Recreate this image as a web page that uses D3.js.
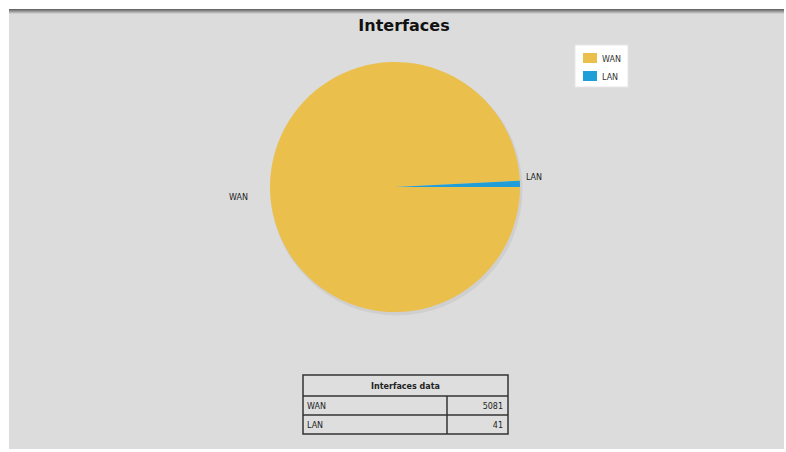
<!DOCTYPE html>
<html>
<head>
<meta charset="utf-8">
<script src="https://cdn.jsdelivr.net/npm/d3@7"></script>
<style>
  html, body { margin: 0; padding: 0; background: #ffffff; }
  svg { display: block; }
</style>
</head>
<body>
<svg id="chart" width="786" height="452"></svg>
<script>
const categories = ["WAN", "LAN"];
const values = [5081, 41];
const colors = ["#EABF4C", "#1F9ED8"];
const chartTitle = "Interfaces";
const tableTitle = "Interfaces data";

const svg = d3.select("#chart");
const W = 786, H = 452;

// panel background
const defs = svg.append("defs");
const grad = defs.append("linearGradient").attr("id", "topShade").attr("x1", 0).attr("y1", 0).attr("x2", 0).attr("y2", 1);
grad.append("stop").attr("offset", "0%").attr("stop-color", "#5a5a5a");
grad.append("stop").attr("offset", "100%").attr("stop-color", "#dcdcdc");

svg.append("rect").attr("x", 9).attr("y", 9).attr("width", 775).attr("height", 440).attr("fill", "#dcdcdc");
svg.append("rect").attr("x", 9).attr("y", 9).attr("width", 775).attr("height", 5).attr("fill", "url(#topShade)");

// title
svg.append("text")
  .attr("x", 404).attr("y", 31)
  .attr("text-anchor", "middle")
  .attr("font-family", "DejaVu Sans, Verdana, sans-serif")
  .attr("font-weight", "bold")
  .attr("font-size", 16)
  .attr("fill", "#111")
  .text(chartTitle);

// pie
const cx = 395, cy = 187, R = 125;
const pie = d3.pie().sort(null).value(d => d.v)
  .startAngle(Math.PI / 2).endAngle(Math.PI / 2 + 2 * Math.PI);
const data = categories.map((c, i) => ({ c, v: values[i], col: colors[i] }));
const arcs = pie(data);
const arc = d3.arc().innerRadius(0).outerRadius(R);
const g = svg.append("g").attr("transform", `translate(${cx},${cy})`);

// soft shadow
g.append("circle").attr("cx", 1.5).attr("cy", 2.5).attr("r", R + 1).attr("fill", "#cfcfcf");

g.selectAll("path.slice").data(arcs).enter().append("path")
  .attr("class", "slice")
  .attr("d", arc)
  .attr("fill", d => d.data.col);

// slice labels
const labelArc = d3.arc().innerRadius(R + 6).outerRadius(R + 6);
g.selectAll("text.lbl").data(arcs).enter().append("text")
  .attr("class", "lbl")
  .attr("x", d => {
    const p = labelArc.centroid(d);
    return p[0] < 0 ? p[0] - 16 : p[0];
  })
  .attr("y", d => {
    const p = labelArc.centroid(d);
    return p[0] < 0 ? p[1] + 10 : p[1] - 4;
  })
  .attr("text-anchor", d => labelArc.centroid(d)[0] < 0 ? "end" : "start")
  .attr("font-family", "DejaVu Sans, Verdana, sans-serif")
  .attr("font-size", 8)
  .attr("fill", "#222")
  .text(d => d.data.c);

// legend
const lg = svg.append("g").attr("transform", "translate(575,45)");
lg.append("rect").attr("width", 53).attr("height", 42).attr("fill", "#ffffff").attr("stroke", "#e6e6e6");
lg.selectAll("rect.sw").data(data).enter().append("rect")
  .attr("class", "sw")
  .attr("x", 8).attr("y", (d, i) => 8 + i * 18)
  .attr("width", 14).attr("height", 10)
  .attr("fill", d => d.col);
lg.selectAll("text.lt").data(data).enter().append("text")
  .attr("class", "lt")
  .attr("x", 27).attr("y", (d, i) => 17 + i * 18)
  .attr("font-family", "DejaVu Sans, Verdana, sans-serif")
  .attr("font-size", 8)
  .attr("fill", "#333")
  .text(d => d.c);

// data table
const tx = 303, ty = 375, tw = 205, colX = 447;
const headH = 21, rowH = 19;
const tg = svg.append("g");
tg.append("rect").attr("x", tx).attr("y", ty).attr("width", tw).attr("height", headH + rowH * data.length)
  .attr("fill", "#dedede").attr("stroke", "#333").attr("stroke-width", 1.5);
tg.append("text")
  .attr("x", tx + tw / 2).attr("y", ty + 14)
  .attr("text-anchor", "middle")
  .attr("font-family", "DejaVu Sans, Verdana, sans-serif")
  .attr("font-size", 8).attr("font-weight", "bold").attr("fill", "#222")
  .text(tableTitle);
data.forEach((d, i) => {
  const y0 = ty + headH + i * rowH;
  tg.append("line").attr("x1", tx).attr("x2", tx + tw).attr("y1", y0).attr("y2", y0)
    .attr("stroke", "#333").attr("stroke-width", 1.5);
  tg.append("line").attr("x1", colX).attr("x2", colX).attr("y1", y0).attr("y2", y0 + rowH)
    .attr("stroke", "#333").attr("stroke-width", 1.5);
  tg.append("text").attr("x", tx + 4).attr("y", y0 + 13)
    .attr("font-family", "DejaVu Sans, Verdana, sans-serif")
    .attr("font-size", 8).attr("fill", "#222").text(d.c);
  tg.append("text").attr("x", tx + tw - 5).attr("y", y0 + 13)
    .attr("text-anchor", "end")
    .attr("font-family", "DejaVu Sans, Verdana, sans-serif")
    .attr("font-size", 8).attr("fill", "#222").text(d.v);
});
</script>
</body>
</html>
